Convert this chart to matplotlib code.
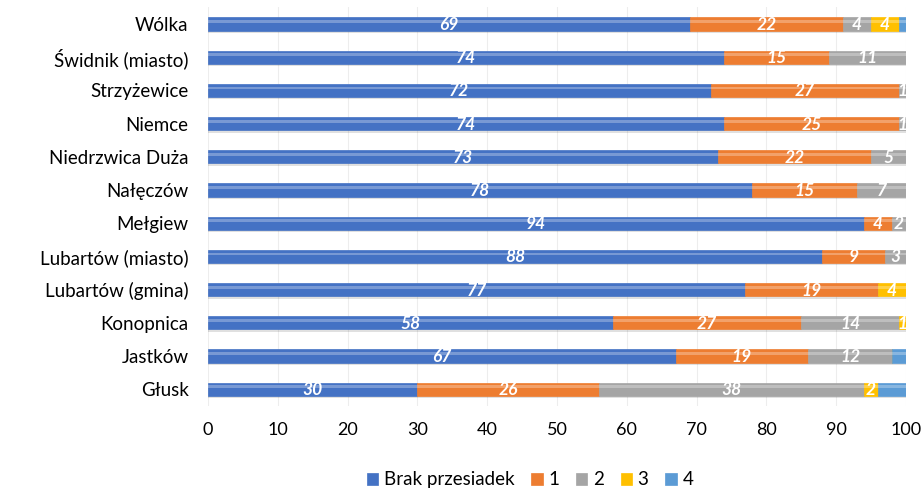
import matplotlib
matplotlib.use("Agg")
import matplotlib.pyplot as plt
import numpy as np

plt.rcParams['font.family'] = ['Lato', 'DejaVu Sans']

categories = ["Wólka", "Świdnik (miasto)", "Strzyżewice", "Niemce", "Niedrzwica Duża",
              "Nałęczów", "Mełgiew", "Lubartów (miasto)", "Lubartów (gmina)", "Konopnica",
              "Jastków", "Głusk"]
series_names = ["Brak przesiadek", "1", "2", "3", "4"]
s0 = [69, 74, 72, 74, 73, 78, 94, 88, 77, 58, 67, 30]
s1 = [22, 15, 27, 25, 22, 15, 4, 9, 19, 27, 19, 26]
s2 = [4, 11, 1, 1, 5, 7, 2, 3, 0, 14, 12, 38]
s3 = [4, 0, 0, 0, 0, 0, 0, 0, 4, 1, 0, 2]
s4 = [1, 0, 0, 0, 0, 0, 0, 0, 0, 0, 2, 4]
colors = ["#4472C4", "#ED7D31", "#A5A5A5", "#FFC000", "#5B9BD5"]
show_labels = [True, True, True, True, False]

fig = plt.figure(figsize=(9.22, 4.93), dpi=100)
ax = fig.add_axes([0.2256, 0.177, 0.757, 0.808])

y = np.arange(len(categories))
left = np.zeros(len(categories))
h = 0.40
for vals, col, name, lab in zip([s0, s1, s2, s3, s4], colors, series_names, show_labels):
    vals = np.array(vals, dtype=float)
    # shadow
    ax.barh(y + 0.07, vals, left=left, height=h, color="#000000", alpha=0.12, zorder=2)
    ax.barh(y, vals, left=left, height=h, color=col, label=name, zorder=3,
            edgecolor=col, linewidth=0.5)
    # highlight strip
    ax.barh(y - h * 0.18, vals, left=left, height=h * 0.22, color="white", alpha=0.28,
            zorder=4, linewidth=0)
    if lab:
        for yi, v, l in zip(y, vals, left):
            if v > 0:
                ax.text(l + v / 2, yi + 0.03, f"{int(v)}", ha="center", va="center",
                        color="white", fontsize=12.5, fontweight="bold", fontstyle="italic",
                        zorder=5)
    left += vals

ax.set_xlim(0, 100)
ax.set_ylim(len(categories) - 0.5, -0.5)
ax.set_yticks(y)
ax.set_yticklabels(categories, fontsize=13.5)
ax.set_xticks(np.arange(0, 101, 10))
ax.tick_params(axis="x", labelsize=13, length=0, pad=12)
ax.tick_params(axis="y", length=0, pad=14)
for sp in ax.spines.values():
    sp.set_visible(False)
ax.grid(axis="x", color="#EDEDED", linewidth=0.8, zorder=0)
ax.set_axisbelow(True)

handles, labels = ax.get_legend_handles_labels()
fig.legend(handles, labels, loc="lower center", ncol=5, frameon=False, fontsize=13.5,
           bbox_to_anchor=(0.575, -0.025), handlelength=0.6, handleheight=0.6,
           columnspacing=0.9, handletextpad=0.3)

fig.savefig("out.png", dpi=100)
